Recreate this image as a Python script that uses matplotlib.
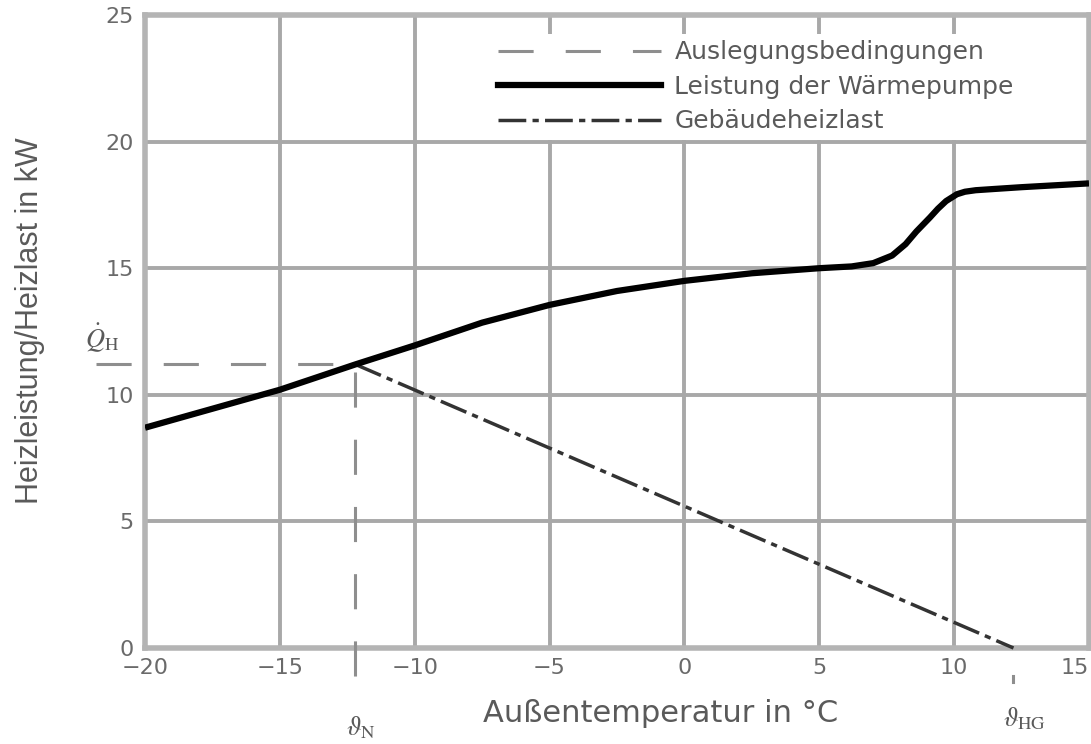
"""
plot.py
=======
Heizleistung der Wärmepumpe und Gebäudeheizlast über der Außentemperatur
(Auslegungspunkt bei der Normaußentemperatur).

Output
------
    out.png
"""

import matplotlib
matplotlib.use("Agg")
import matplotlib.pyplot as plt
from matplotlib.lines import Line2D

# ── Data ──────────────────────────────────────────────────────────────────────
T_HP = [-20, -17.5, -15, -12.2, -10, -7.5, -5, -2.5, 0, 2.5, 5, 6.2, 7.0,
        7.7, 8.2, 8.6, 9.1, 9.4, 9.7, 10.1, 10.4, 10.8, 11.5, 12.5, 15]
Q_HP = [8.7, 9.45, 10.2, 11.2, 11.95, 12.85, 13.55, 14.1, 14.5, 14.8, 15.0,
        15.07, 15.2, 15.5, 15.95, 16.45, 17.0, 17.35, 17.65, 17.92, 18.02,
        18.08, 18.13, 18.2, 18.35]

THETA_N = -12.2      # Normaußentemperatur
THETA_HG = 12.2      # Heizgrenztemperatur
Q_H = 11.2           # Auslegungsheizlast

T_LOAD = [THETA_N, THETA_HG]
Q_LOAD = [Q_H, 0]

X_TICKS = [-20, -15, -10, -5, 0, 5, 10, 15]
Y_TICKS = [0, 5, 10, 15, 20, 25]

LABELS = ["Auslegungsbedingungen", "Leistung der Wärmepumpe",
          "Gebäudeheizlast"]

# ── Styles ────────────────────────────────────────────────────────────────────
GRID_C = "#a8a8a8"
SPINE_C = "#b4b4b4"
DASH_C = "#8e8e8e"
LOAD_C = "#333333"
TEXT_C = "#5a5a5a"
DASH = (0, (11.5, 10.5))
DASHDOT = (0, (8, 1.8, 1.8, 1.8))

W, H = 1091, 744
plt.rcParams["mathtext.fontset"] = "stix"


def main() -> None:
    fig = plt.figure(figsize=(W / 100, H / 100), dpi=100)
    ax = fig.add_axes([145 / W, 1 - 648 / H, (1089 - 145) / W, (648 - 15) / H])

    ax.set_xlim(-20, 15)
    ax.set_ylim(0, 25)
    ax.set_xticks(X_TICKS)
    ax.set_yticks(Y_TICKS)
    ax.grid(True, color=GRID_C, lw=2.8, zorder=0)
    ax.set_axisbelow(True)
    ax.tick_params(length=0, labelsize=16, labelcolor="#6a6a6a")
    ax.tick_params(axis="x", pad=7)
    ax.tick_params(axis="y", pad=8)
    for s in ax.spines.values():
        s.set_color(SPINE_C)
        s.set_linewidth(4)
    # last x label would run off the figure edge
    ax.get_xticklabels()[-1].set_horizontalalignment("right")

    # Auslegungsbedingungen (dashed construction lines)
    ax.plot([-21.8, THETA_N], [Q_H, Q_H], color=DASH_C, lw=2.2,
            linestyle=DASH, clip_on=False, zorder=3)
    ax.plot([THETA_N, THETA_N], [Q_H - 0.3, -2.35], color=DASH_C, lw=2.2,
            linestyle=DASH, clip_on=False, zorder=3)
    ax.plot([THETA_HG, THETA_HG], [-1.1, -1.35], color=DASH_C, lw=2.2,
            clip_on=False, zorder=3)

    # Gebäudeheizlast
    ax.plot(T_LOAD, Q_LOAD, color=LOAD_C, lw=2.5, linestyle=DASHDOT,
            clip_on=False, zorder=4)

    # Leistung der Wärmepumpe
    ax.plot(T_HP, Q_HP, color="black", lw=4.5, solid_joinstyle="round",
            solid_capstyle="butt", zorder=5)

    # Labels
    ax.text(-0.1218, 0.5166, "Heizleistung/Heizlast in kW", rotation=90,
            transform=ax.transAxes, ha="center", va="center", fontsize=22,
            family="Liberation Sans", color=TEXT_C)
    ax.text(0.5466, -0.103, "Außentemperatur in °C", transform=ax.transAxes,
            ha="center", va="center", fontsize=22, color=TEXT_C)
    ax.text(-21.6, 12.25, r"$\dot{Q}_\mathrm{H}$", ha="center", va="center",
            fontsize=19, color=TEXT_C, clip_on=False)
    ax.text(-12.0, -3.15, r"$\vartheta_\mathrm{N}$", ha="center",
            va="center", fontsize=19, color=TEXT_C, clip_on=False)
    ax.text(12.6, -2.8, r"$\vartheta_\mathrm{HG}$", ha="center",
            va="center", fontsize=19, color=TEXT_C, clip_on=False)

    # Legend
    handles = [
        Line2D([], [], color=DASH_C, lw=2.2, linestyle=DASH),
        Line2D([], [], color="black", lw=4.5),
        Line2D([], [], color=LOAD_C, lw=2.5, linestyle=DASHDOT),
    ]
    leg = ax.legend(handles, LABELS, loc="upper left",
                    bbox_to_anchor=(492 / W, 1 - 34 / H),
                    bbox_transform=fig.transFigure, fontsize=18,
                    handlelength=6.5, handletextpad=0.55, labelspacing=0.42,
                    borderpad=0.25, borderaxespad=0, frameon=True,
                    fancybox=False, facecolor="white", edgecolor="none",
                    framealpha=1)
    for t in leg.get_texts():
        t.set_color(TEXT_C)

    fig.savefig("out.png", dpi=100)
    plt.close(fig)


if __name__ == "__main__":
    main()
